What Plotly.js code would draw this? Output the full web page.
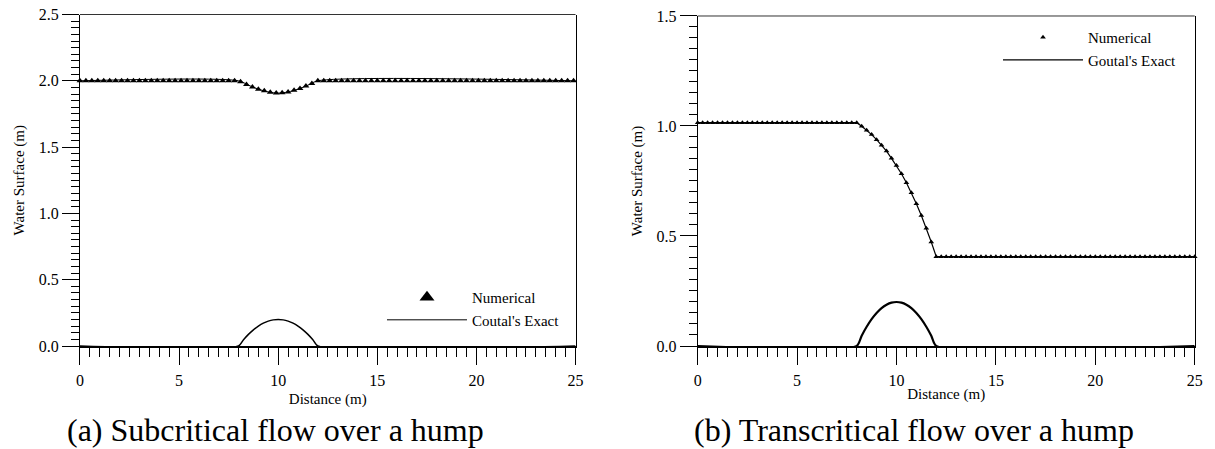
<!DOCTYPE html>
<html>
<head>
<meta charset="utf-8">
<script src="https://cdn.plot.ly/plotly-3.0.1.min.js"></script>
<style>html,body{margin:0;padding:0;background:#fff}#chart{width:1215px;height:449px}</style>
</head>
<body>
<div id="chart"></div>
<script>
// ---------- (a) Subcritical flow over a hump ----------
const numXA = [0,0.3,0.6,0.9,1.2,1.5,1.8,2.1,2.4,2.7,3,3.3,3.6,3.9,4.2,4.5,4.8,5.1,5.4,5.7,6,6.3,6.6,6.9,7.2,7.5,7.8,
  8.1,8.4,8.7,9,9.3,9.6,9.9,10.2,10.5,10.8,11.1,11.4,11.7,
  12,12.3,12.6,12.9,13.2,13.5,13.8,14.1,14.4,14.7,15,15.3,15.6,15.9,16.2,16.5,16.8,17.1,17.4,17.7,18,18.3,18.6,18.9,19.2,19.5,19.8,20.1,20.4,20.7,21,21.3,21.6,21.9,22.2,22.5,22.8,23.1,23.4,23.7,24,24.3,24.6,24.9];
const numYA = [2,2,2,2,2,2,2,2,2,2,2,2,2,2,2,2,2,2,2,2,2,2,2,2,2,2,2,
  1.993,1.973,1.954,1.937,1.925,1.913,1.908,1.909,1.916,1.929,1.942,1.960,1.979,
  2,2,2,2,2,2,2,2,2,2,2,2,2,2,2,2,2,2,2,2,2,2,2,2,2,2,2,2,2,2,2,2,2,2,2,2,2,2,2,2,2,2,2,2];
const exactXA = [0,8,8.5,9,9.5,10,10.5,11,11.5,12,25];
const exactYA = [2.0,2.0,1.967,1.937,1.916,1.907,1.916,1.937,1.967,2.0,2.0];
const bedXA = [0,8,8.25,8.5,8.75,9,9.25,9.5,9.75,10,10.25,10.5,10.75,11,11.25,11.5,11.75,12,25];
const bedZA = [0,0,0.047,0.0875,0.122,0.15,0.172,0.1875,0.197,0.2,0.197,0.1875,0.172,0.15,0.122,0.0875,0.047,0,0];

// ---------- (b) Transcritical flow over a hump ----------
const numXB = [0,0.25,0.5,0.75,1,1.25,1.5,1.75,2,2.25,2.5,2.75,3,3.25,3.5,3.75,4,4.25,4.5,4.75,5,5.25,5.5,5.75,6,6.25,6.5,6.75,7,7.25,7.5,7.75,
  8,8.25,8.5,8.75,9,9.25,9.5,9.75,10,10.25,10.5,10.75,11,11.25,11.5,11.75,12,
  12.25,12.5,12.75,13,13.25,13.5,13.75,14,14.25,14.5,14.75,15,15.25,15.5,15.75,16,16.25,16.5,16.75,17,17.25,17.5,17.75,18,18.25,18.5,18.75,19,19.25,19.5,19.75,20,20.25,20.5,20.75,21,21.25,21.5,21.75,22,22.25,22.5,22.75,23,23.25,23.5,23.75,24,24.25,24.5,24.75,25];
const numYB = [1.015,1.015,1.015,1.015,1.015,1.015,1.015,1.015,1.015,1.015,1.015,1.015,1.015,1.015,1.015,1.015,1.015,1.015,1.015,1.015,1.015,1.015,1.015,1.015,1.015,1.015,1.015,1.015,1.015,1.015,1.015,1.015,
  1.015,0.999,0.981,0.961,0.938,0.913,0.886,0.853,0.820,0.783,0.742,0.696,0.647,0.593,0.535,0.473,0.406,
  0.406,0.406,0.406,0.406,0.406,0.406,0.406,0.406,0.406,0.406,0.406,0.406,0.406,0.406,0.406,0.406,0.406,0.406,0.406,0.406,0.406,0.406,0.406,0.406,0.406,0.406,0.406,0.406,0.406,0.406,0.406,0.406,0.406,0.406,0.406,0.406,0.406,0.406,0.406,0.406,0.406,0.406,0.406,0.406,0.406,0.406,0.406,0.406,0.406,0.406,0.406,0.406];
const exactXB = [0,8,8.25,8.5,8.75,9,9.25,9.5,9.75,10,10.25,10.5,10.75,11,11.25,11.5,11.75,12,25];
const exactYB = [1.015,1.015,0.999,0.981,0.961,0.938,0.913,0.886,0.853,0.820,0.783,0.742,0.696,0.647,0.593,0.535,0.473,0.406,0.406];
const bedXB = [0,8,8.25,8.5,8.75,9,9.25,9.5,9.75,10,10.25,10.5,10.75,11,11.25,11.5,11.75,12,25];
const bedZB = [0,0,0.047,0.0875,0.122,0.15,0.172,0.1875,0.197,0.2,0.197,0.1875,0.172,0.15,0.122,0.0875,0.047,0,0];

const xTitle = 'Distance (m)';
const yTitle = 'Water Surface (m)';
const captionA = '(a) Subcritical flow over a hump';
const captionB = '(b) Transcritical flow over a hump';

const FONT = 'Liberation Serif';
const BLACK = '#000';

const traces = [
  {x: numXA, y: numYA, mode: 'markers', name: 'Numerical', xaxis: 'x', yaxis: 'y', showlegend: false,
   marker: {symbol: 'triangle-up', size: 6, color: BLACK}, cliponaxis: false},
  // legend sample for the numerical series of panel (a): larger symbol, no data of its own
  {x: [null], y: [null], mode: 'markers', name: 'Numerical', xaxis: 'x', yaxis: 'y', legend: 'legend',
   marker: {symbol: 'triangle-up', size: 13, color: BLACK}},
  {x: exactXA, y: exactYA, mode: 'lines', name: "Coutal's Exact", xaxis: 'x', yaxis: 'y', legend: 'legend',
   line: {color: BLACK, width: 1, shape: 'spline', smoothing: 0.8}},
  {x: bedXA, y: bedZA, mode: 'lines', showlegend: false, xaxis: 'x', yaxis: 'y',
   line: {color: BLACK, width: 1.5, shape: 'spline', smoothing: 0.6}},
  {x: numXB, y: numYB, mode: 'markers', name: 'Numerical', xaxis: 'x2', yaxis: 'y2', legend: 'legend2',
   marker: {symbol: 'triangle-up', size: 5, color: BLACK}, cliponaxis: false},
  {x: exactXB, y: exactYB, mode: 'lines', name: "Goutal's Exact", xaxis: 'x2', yaxis: 'y2', legend: 'legend2',
   line: {color: BLACK, width: 1.2}},
  {x: bedXB, y: bedZB, mode: 'lines', showlegend: false, xaxis: 'x2', yaxis: 'y2',
   line: {color: BLACK, width: 2.2, shape: 'spline', smoothing: 0.6}}
];

function xAxis(domain, anchor, standoff) {
  return {
    domain: domain, anchor: anchor, range: [0, 25], tick0: 0, dtick: 5,
    ticks: 'outside', ticklen: 17, tickwidth: 1, tickcolor: BLACK,
    showline: true, linecolor: BLACK, linewidth: 2, mirror: false,
    showgrid: false, zeroline: false, ticklabelstandoff: 2,
    minor: {dtick: 0.5, ticks: 'outside', ticklen: 9, tickwidth: 1, tickcolor: BLACK, showgrid: false},
    tickfont: {family: FONT, size: 16, color: BLACK},
    title: {text: xTitle, font: {family: FONT, size: 15, color: BLACK}, standoff: standoff}
  };
}
function yAxis(domain, anchor, maxV) {
  return {
    domain: domain, anchor: anchor, range: [0, maxV], tick0: 0, dtick: 0.5, tickformat: '.1f',
    ticks: 'outside', ticklen: 17, tickwidth: 1, tickcolor: BLACK,
    showline: true, linecolor: BLACK, linewidth: 1, mirror: true,
    showgrid: false, zeroline: false,
    minor: {dtick: 0.05, ticks: 'outside', ticklen: 8, tickwidth: 1, tickcolor: BLACK, showgrid: false},
    tickfont: {family: FONT, size: 16, color: BLACK},
    title: {text: yTitle, font: {family: FONT, size: 15, color: BLACK}, standoff: 10}
  };
}
// top frame edge of each panel (the plot frame, not data)
function topEdge(xr, yr) {
  return {type: 'line', xref: xr + ' domain', yref: yr + ' domain', x0: 0, x1: 1, y0: 1, y1: 1,
          line: {color: '#333', width: 1}, layer: 'above'};
}

const layout = {
  width: 1215, height: 449,
  margin: {l: 0, r: 0, t: 0, b: 0},
  paper_bgcolor: '#fff', plot_bgcolor: '#fff',
  font: {family: FONT, color: BLACK},
  xaxis: xAxis([0.0658, 0.4737], 'y', 5),
  yaxis: yAxis([0.2294, 0.9677], 'x', 2.5),
  xaxis2: xAxis([0.5742, 0.9833], 'y2', 0),
  yaxis2: yAxis([0.2294, 0.9644], 'x2', 1.5),
  shapes: [topEdge('x', 'y'), topEdge('x2', 'y2')],
  legend: {x: 0.3144, y: 0.374, xanchor: 'left', yanchor: 'top', bgcolor: 'rgba(0,0,0,0)',
           font: {family: FONT, size: 15, color: BLACK}, itemsizing: 'trace', itemwidth: 80, tracegroupgap: 0},
  legend2: {x: 0.8214, y: 0.953, xanchor: 'left', yanchor: 'top', bgcolor: 'rgba(0,0,0,0)',
            font: {family: FONT, size: 15, color: BLACK}, itemsizing: 'trace', itemwidth: 80, tracegroupgap: 0},
  annotations: [
    {text: captionA, xref: 'paper', yref: 'paper', x: 0.2268, y: 0.0423, xanchor: 'center', yanchor: 'middle',
     showarrow: false, font: {family: FONT, size: 32, color: BLACK}},
    {text: captionB, xref: 'paper', yref: 'paper', x: 0.7523, y: 0.0423, xanchor: 'center', yanchor: 'middle',
     showarrow: false, font: {family: FONT, size: 32, color: BLACK}}
  ],
  showlegend: true
};

Plotly.newPlot('chart', traces, layout, {displayModeBar: false, staticPlot: true});
</script>
</body>
</html>
